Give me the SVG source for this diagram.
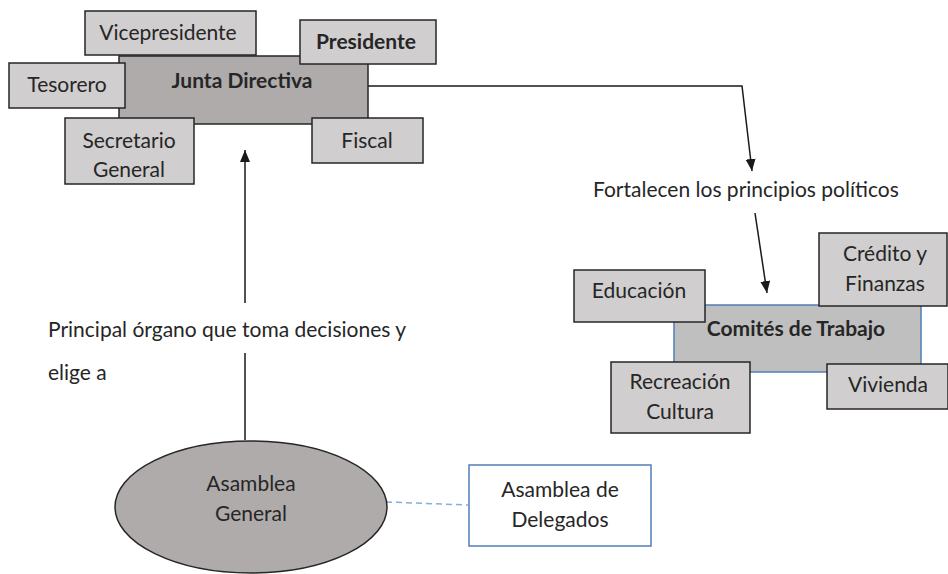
<svg xmlns="http://www.w3.org/2000/svg" width="948" height="574" viewBox="0 0 948 574">
<style>
text{font-family:Lato,"Liberation Sans",sans-serif;font-size:21px;fill:#262626}
.c{text-anchor:middle}
.b{font-weight:bold}
.box{fill:#d0cece;stroke:#262626;stroke-width:1.5}
.main{fill:#afabab;stroke:#262626;stroke-width:1.5}
.blue{stroke:#4f7fb5;stroke-width:1.5}
.line{fill:none;stroke:#1a1a1a;stroke-width:1.5}
</style>
<defs>
<marker id="ah" viewBox="0 0 12 10" refX="12" refY="5" markerWidth="12" markerHeight="10" markerUnits="userSpaceOnUse" orient="auto"><path d="M0,0 L12,5 L0,10 z" fill="#1a1a1a"/></marker>
</defs>
<rect width="948" height="574" fill="#fff"/>
<g id="connectors">
<path class="line" d="M368,86 H742 L752,171" marker-end="url(#ah)"/>
<path class="line" d="M755,213 L767,293" marker-end="url(#ah)"/>
<path class="line" d="M245,303 V150" marker-end="url(#ah)"/>
<path class="line" d="M245,353 V440"/>
<path d="M386,502 L468,505" fill="none" stroke="#7fb0df" stroke-width="1.5" stroke-dasharray="6,4"/>
</g>
<g id="labels">
<text x="48" y="337">Principal órgano que toma decisiones y</text>
<text x="48" y="380">elige a</text>
<text x="593" y="197">Fortalecen los principios políticos</text>
</g>
<g id="junta">
<rect class="main" x="119" y="56" width="249" height="68"/>
<text class="c b" x="242" y="88">Junta Directiva</text>
</g>
<g id="vicepresidente">
<rect class="box" x="85" y="11" width="171" height="44"/>
<text class="c" x="168" y="40">Vicepresidente</text>
</g>
<g id="presidente">
<rect class="box" x="300" y="20" width="136" height="44"/>
<text class="c b" x="366" y="49">Presidente</text>
</g>
<g id="tesorero">
<rect class="box" x="9" y="63" width="116" height="45"/>
<text class="c" x="67" y="92">Tesorero</text>
</g>
<g id="secretario">
<rect class="box" x="65" y="118" width="129" height="66"/>
<text class="c" x="129" y="148">Secretario</text>
<text class="c" x="129" y="177">General</text>
</g>
<g id="fiscal">
<rect class="box" x="312" y="118" width="111" height="45"/>
<text class="c" x="367" y="148">Fiscal</text>
</g>
<g id="comites">
<rect fill="#bfbfbf" class="blue" x="674" y="305" width="247" height="67"/>
<text class="c b" x="796" y="336">Comités de Trabajo</text>
</g>
<g id="educacion">
<rect class="box" x="574" y="270" width="131" height="52"/>
<text class="c" x="639" y="298">Educación</text>
</g>
<g id="credito">
<rect class="box" x="819" y="233" width="128" height="73"/>
<text class="c" x="885" y="261">Crédito y</text>
<text class="c" x="885" y="291">Finanzas</text>
</g>
<g id="recreacion">
<rect class="box" x="611" y="362" width="139" height="71"/>
<text class="c" x="680" y="389">Recreación</text>
<text class="c" x="680" y="419">Cultura</text>
</g>
<g id="vivienda">
<rect class="box" x="827" y="364" width="121" height="45"/>
<text class="c" x="888" y="392">Vivienda</text>
</g>
<g id="asamblea">
<ellipse cx="251" cy="507" rx="136" ry="66" fill="#afabab" stroke="#262626" stroke-width="1.5"/>
<text class="c" x="251" y="491">Asamblea</text>
<text class="c" x="251" y="521">General</text>
</g>
<g id="delegados">
<rect fill="#fff" class="blue" x="469" y="465" width="182" height="81"/>
<text class="c" x="560" y="497">Asamblea de</text>
<text class="c" x="560" y="527">Delegados</text>
</g>
</svg>
